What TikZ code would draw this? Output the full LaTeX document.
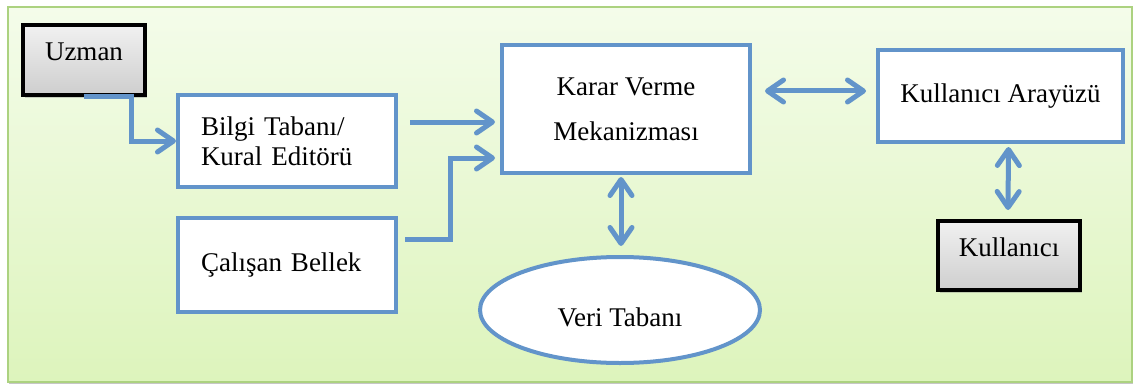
\documentclass[tikz,border=0pt]{standalone}
\usepackage{fontspec}
\setmainfont{Liberation Serif}
\usetikzlibrary{arrows.meta,positioning,calc,shapes.geometric,shadows}

\definecolor{boxblue}{RGB}{98,148,202}
\definecolor{framegreen}{RGB}{172,210,128}
\definecolor{bgtop}{RGB}{244,252,234}
\definecolor{bgbottom}{RGB}{221,244,188}
\definecolor{graytop}{RGB}{241,241,241}
\definecolor{graybottom}{RGB}{206,206,206}

\tikzset{
  bluebox/.style={rectangle, draw=boxblue, line width=2pt, fill=white, font=\fontsize{13.5}{15}\selectfont},
  graybox/.style={rectangle, draw=black, line width=2pt, top color=graytop, bottom color=graybottom, text depth=8pt,
    drop shadow={shadow xshift=0.8pt, shadow yshift=-1.5pt, opacity=0.35}, font=\fontsize{13.5}{15}\selectfont},
  conn/.style={draw=boxblue, line width=2.5pt, -{Straight Barb[length=8pt,width=11pt,round]}},
  dconn/.style={draw=boxblue, line width=2.5pt, {Straight Barb[length=8pt,width=11pt,round]}-{Straight Barb[length=8pt,width=11pt,round]}}
}

\begin{document}
\begin{tikzpicture}[x=0.5pt,y=-0.5pt]
\useasboundingbox (0,0) rectangle (1139,385);
\draw[draw=framegreen, line width=1pt, top color=bgtop, bottom color=bgbottom,
  drop shadow={shadow xshift=0.6pt, shadow yshift=-0.8pt, opacity=0.45}] (8,7) rectangle (1132,382);

\node at (84,60) [graybox, minimum width=61pt, minimum height=35pt] (Uzman) {Uzman};
\node at (287,141) [bluebox, minimum width=109pt, minimum height=46pt, text width=86pt, inner xsep=11.5pt, align=left] (Bilgi) {Bilgi Tabanı/\\Kural Editörü};
\node at (287,265) [bluebox, minimum width=109pt, minimum height=47pt, text width=86pt, inner xsep=11.5pt, align=left] (Calisan) {Çalışan Bellek};
\node at (626,109) [bluebox, minimum width=124pt, minimum height=64pt, align=center, font=\fontsize{13.5}{22.5}\selectfont] (Karar) {Karar Verme\\Mekanizması};
\node at (1000.5,96) [bluebox, minimum width=122.5pt, minimum height=46pt] (Arayuz) {Kullanıcı Arayüzü};
\node at (1009,255.5) [graybox, minimum width=71pt, minimum height=34.5pt] (Kullanici) {Kullanıcı};
\node at (620,310) [ellipse, draw=boxblue, line width=2pt, fill=white, minimum width=140pt, minimum height=53pt, text height=17pt, font=\fontsize{13.5}{15}\selectfont] (Veri) {Veri Tabanı};

\draw[conn] (Uzman.south) -- ++(47,0) |- (Bilgi.west);
\draw[conn] ([shift={(12,-19)}]Bilgi.east) -- ([shift={(-5,13)}]Karar.west);
\draw[conn] ([shift={(7,-26)}]Calisan.east) -- ++(45,0) |- ([shift={(-5,49)}]Karar.west);
\draw[dconn] ([shift={(13,-18)}]Karar.east) -- ([shift={(-10,-5)}]Arayuz.west);
\draw[dconn] ([shift={(-5,2)}]Karar.south) -- ([shift={(1,-9)}]Veri.north);
\draw[dconn] ([shift={(8,3)}]Arayuz.south) -- ([shift={(-1,-9)}]Kullanici.north);

\end{tikzpicture}
\end{document}
